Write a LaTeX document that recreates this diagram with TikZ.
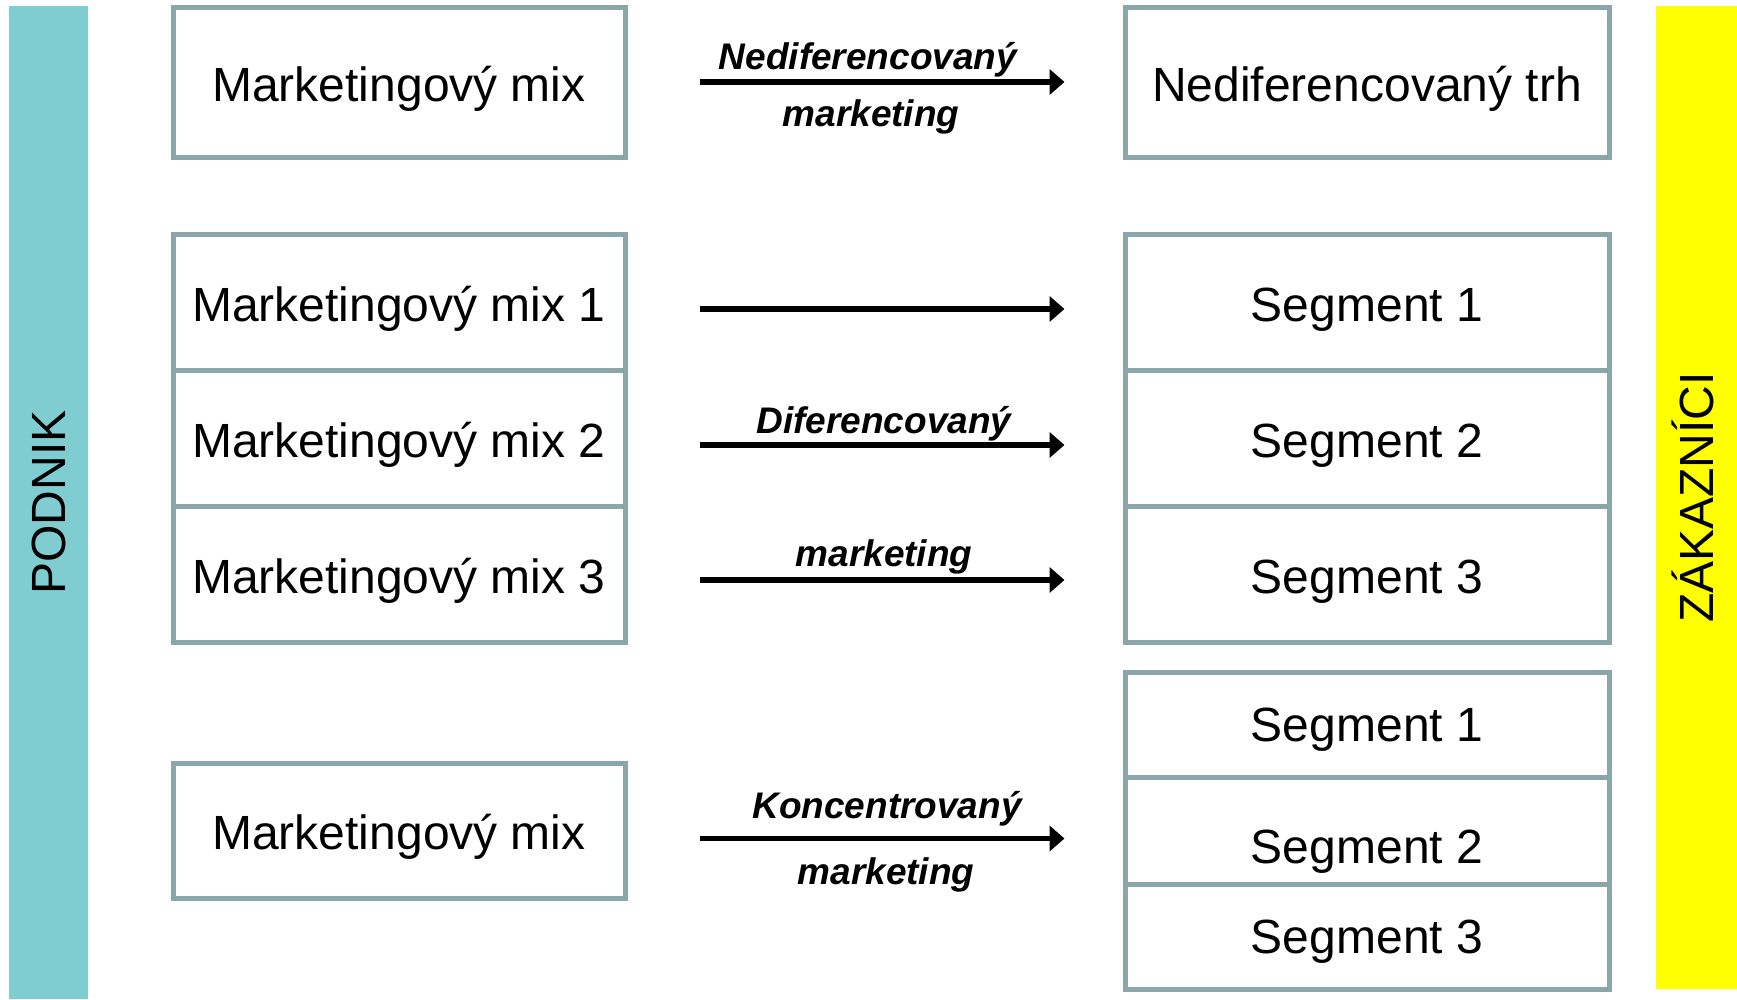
\documentclass[tikz,border=0pt]{standalone}
\usepackage{fontspec}
\setmainfont{Liberation Sans}
\usetikzlibrary{arrows.meta}

\definecolor{podnikfill}{RGB}{127,205,208}
\definecolor{zakazfill}{RGB}{255,255,0}
\definecolor{frame}{RGB}{138,166,168}

\begin{document}
\begin{tikzpicture}[x=1pt,y=-1pt,
  bigtext/.style={font=\fontsize{48}{48}\selectfont},
  cell/.style={bigtext,draw=frame,line width=5pt,fill=white,inner sep=0pt,
    text height=38pt,text depth=0pt},
  lcell/.style={cell,minimum width=452pt},
  rcell/.style={cell,minimum width=484pt},
  band/.style={bigtext,rotate=90,inner sep=0pt,text height=34.4pt,text depth=0pt},
  lab/.style={font=\fontsize{37}{37}\selectfont\bfseries\itshape,anchor=base,inner sep=0pt},
  arr/.style={line width=5.4pt,-{Triangle[length=15pt,width=25pt]},
    shorten <=72pt,shorten >=58pt}]
\useasboundingbox (0,0) rectangle (1737,999);

% side bands
\node[band,fill=podnikfill,minimum width=993pt,minimum height=79pt] (podnik) at (48.5,502.5) {PODNIK};
\node[band,fill=zakazfill,minimum width=983pt,minimum height=81pt] (zakaz) at (1696.5,497.5) {ZÁKAZNÍCI};

% undifferentiated marketing
\node[lcell,minimum height=150pt] (L0) at (399,82) {Marketingový mix};
\node[rcell,minimum height=150pt] (R0) at (1367,82) {Nediferencovaný trh};

% differentiated marketing
\node[lcell,minimum height=136pt] (L1) at (399,302) {Marketingový mix 1};
\node[lcell,minimum height=136pt] (L2) at (399,438) {Marketingový mix 2};
\node[lcell,minimum height=136pt] (L3) at (399,574) {Marketingový mix 3};
\node[rcell,minimum height=136pt] (R1) at (1367,302) {Segment 1};
\node[rcell,minimum height=136pt] (R2) at (1367,438) {Segment 2};
\node[rcell,minimum height=136pt] (R3) at (1367,574) {Segment 3};

% concentrated marketing
\node[lcell,minimum height=135pt] (L4) at (399,830.5) {Marketingový mix};
\node[rcell,minimum height=105pt,text height=34pt] (K1) at (1367,724.5) {Segment 1};
\node[rcell,minimum height=107pt,text height=66pt] (K2) at (1367,830.5) {Segment 2};
\node[rcell,minimum height=105pt,text height=34pt] (K3) at (1367,936.5) {Segment 3};

% connectors
\draw[arr] (L0.east) -- (R0.west);
\draw[arr] ([yshift=-7pt]L1.east) -- ([yshift=-7pt]R1.west);
\draw[arr] ([yshift=-7pt]L2.east) -- ([yshift=-7pt]R2.west);
\draw[arr] ([yshift=-6pt]L3.east) -- ([yshift=-6pt]R3.west);
\draw[arr] ([yshift=-8pt]L4.east) -- ([yshift=-8pt]K2.west);

% connector labels
\node[lab] (t1a) at (868,69) {Nediferencovaný};
\node[lab] (t1b) at (871,126) {marketing};
\node[lab] (t2a) at (884,433) {Diferencovaný};
\node[lab] (t2b) at (884,566) {marketing};
\node[lab] (t3a) at (887,818) {Koncentrovaný};
\node[lab] (t3b) at (886,884) {marketing};
\end{tikzpicture}
\end{document}
